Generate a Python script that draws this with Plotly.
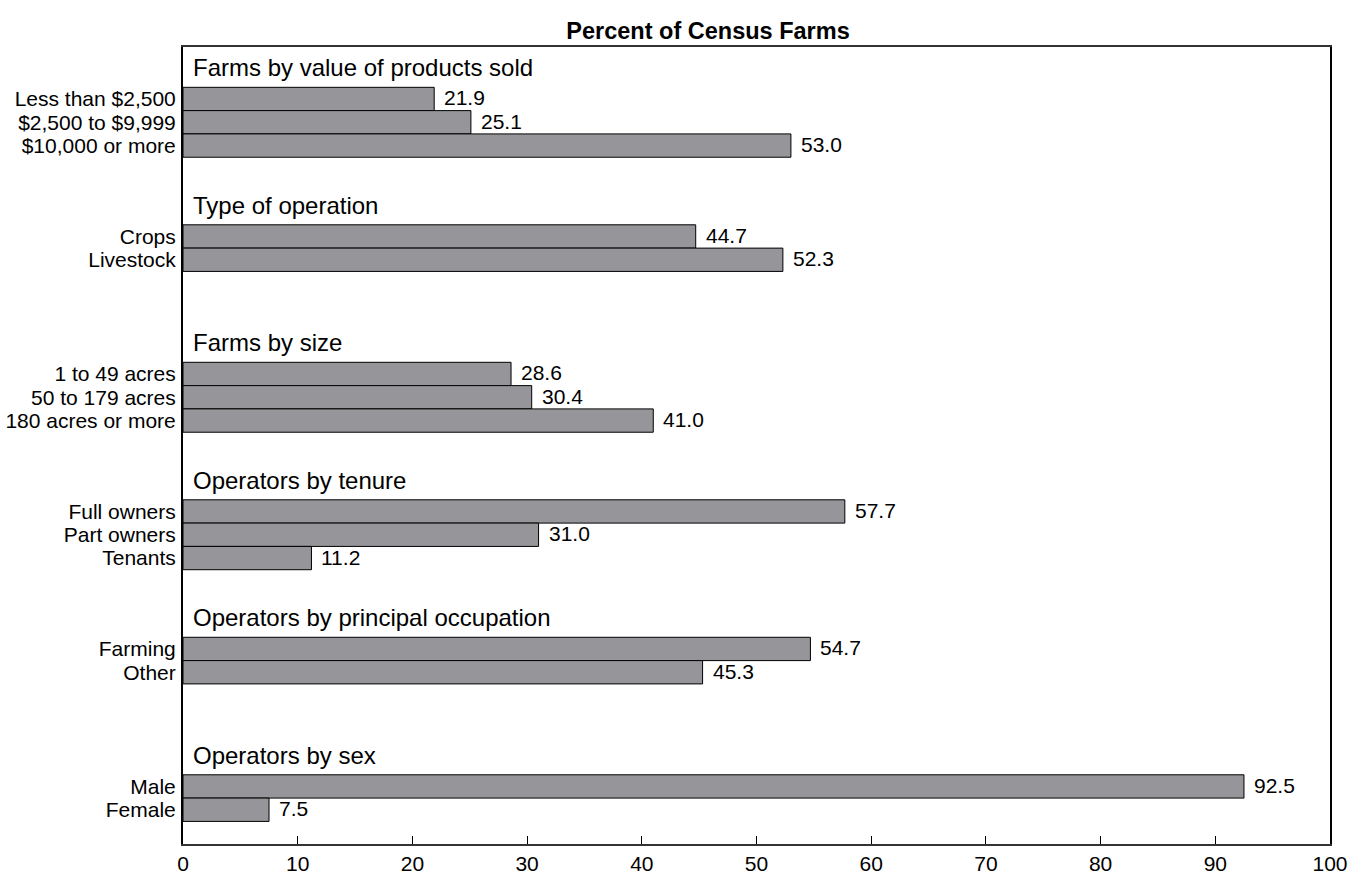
import plotly.graph_objects as go

# Data
group_titles = [
    "Farms by value of products sold",
    "Type of operation",
    "Farms by size",
    "Operators by tenure",
    "Operators by principal occupation",
    "Operators by sex",
]
group_labels = [
    ["Less than $2,500", "$2,500 to $9,999", "$10,000 or more"],
    ["Crops", "Livestock"],
    ["1 to 49 acres", "50 to 179 acres", "180 acres or more"],
    ["Full owners", "Part owners", "Tenants"],
    ["Farming", "Other"],
    ["Male", "Female"],
]
group_values = [
    [21.9, 25.1, 53.0],
    [44.7, 52.3],
    [28.6, 30.4, 41.0],
    [57.7, 31.0, 11.2],
    [54.7, 45.3],
    [92.5, 7.5],
]
x_ticks = [0, 10, 20, 30, 40, 50, 60, 70, 80, 90, 100]

# Layout of slots (in bar-height units)
HEADER_START = 0.9
GROUP_STEP = 5.9
FIRST_BAR_OFFSET = 1.33
Y_MAX = 34.2

FONT = "Liberation Sans, Arial, Helvetica, sans-serif"

ys, xs, labels, texts = [], [], [], []
header_y = []
for i, (labs, vals) in enumerate(zip(group_labels, group_values)):
    h = HEADER_START + GROUP_STEP * i
    header_y.append(h)
    for j, (lab, v) in enumerate(zip(labs, vals)):
        ys.append(h + FIRST_BAR_OFFSET + j)
        xs.append(v)
        labels.append(lab)
        texts.append(f"{v:.1f}")

fig = go.Figure()
fig.add_trace(go.Bar(
    x=xs, y=ys, orientation="h", width=1.0,
    marker=dict(color="#96969a", line=dict(color="black", width=1)),
    hoverinfo="skip",
))

for x, y, t in zip(xs, ys, texts):
    fig.add_annotation(
        x=x, xref="x", y=y, yref="y", text=t, showarrow=False,
        xanchor="left", yanchor="middle", xshift=8, yshift=1,
        font=dict(size=21, color="black", family=FONT),
    )

for t, h in zip(group_titles, header_y):
    fig.add_annotation(
        x=0, xref="paper", y=h, yref="y", text=t, showarrow=False,
        xanchor="left", yanchor="middle", xshift=8,
        font=dict(size=24, color="black", family=FONT),
    )

fig.update_layout(
    width=1369, height=878, autosize=False,
    margin=dict(l=183, r=39, t=47, b=34, autoexpand=False),
    paper_bgcolor="white", plot_bgcolor="white",
    showlegend=False,
    font=dict(family=FONT, color="black", size=21),
    title=dict(
        text="<b>Percent of Census Farms</b>", x=708 / 1369, xanchor="center",
        y=1 - 31 / 878, yanchor="middle", automargin=False,
        font=dict(size=23.5, color="black", family=FONT),
    ),
    xaxis=dict(
        range=[0, 100], tickvals=x_ticks, ticks="inside", ticklen=8,
        tickcolor="black", tickwidth=1, showgrid=False, zeroline=False,
        showline=True, linecolor="#333333", linewidth=1.5, mirror=True,
        tickfont=dict(size=21), ticklabelstandoff=0, fixedrange=True,
        automargin=False,
    ),
    yaxis=dict(
        range=[Y_MAX, 0], tickvals=ys, ticktext=labels, ticks="",
        showgrid=False, zeroline=False, showline=True, linecolor="black",
        linewidth=2, mirror=True, tickfont=dict(size=21), ticklabelstandoff=1,
        fixedrange=True, automargin=False,
    ),
)

fig.write_html(
    "out.html",
    config={"displayModeBar": False},
    post_script="document.body.style.margin='0px';",
)
